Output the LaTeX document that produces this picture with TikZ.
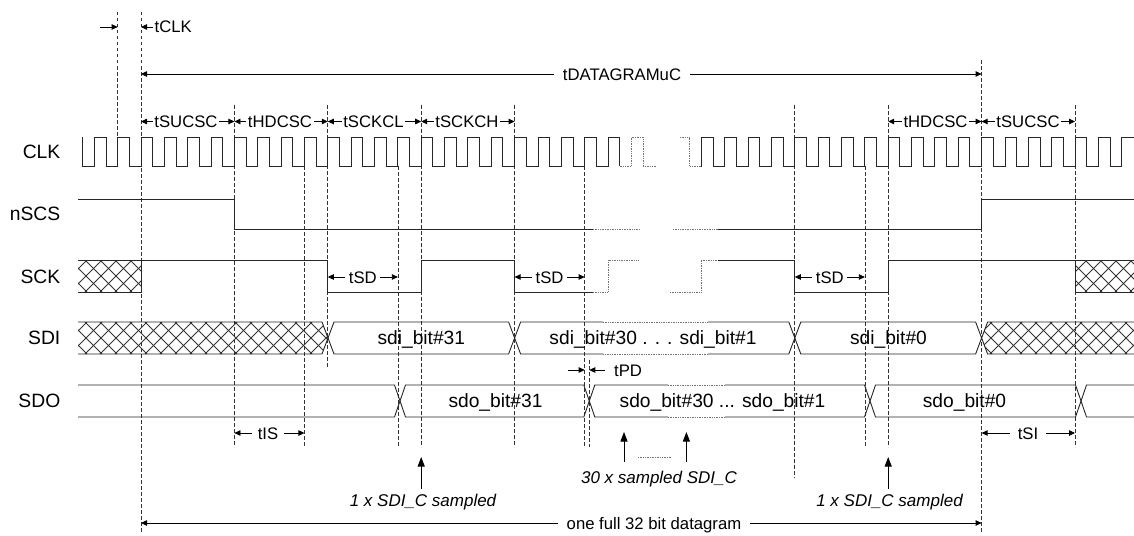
\documentclass[tikz,border=0pt]{standalone}
\usepackage{fontspec}
\setmainfont{Liberation Sans}
\usetikzlibrary{arrows.meta}
\newcommand\busseg[5]{%
  \draw[sig] (#1,{(#3+#4)/2}) -- ({#1+#5},#3) -- ({#2-#5},#3) -- (#2,{(#3+#4)/2}) -- ({#2-#5},#4) -- ({#1+#5},#4) -- cycle;}
\begin{document}
\begin{tikzpicture}[x=1pt,y=-1pt,
  sig/.style={line width=0.9pt,black!85},
  faint/.style={line width=0.9pt,black!55,dash pattern=on 1pt off 0.7pt},
  guide/.style={line width=0.7pt,black!80,dash pattern=on 3.5pt off 2.5pt},
  hatchline/.style={line width=0.8pt,black!80},
  tlab/.style={font=\fontsize{16.7}{20}\selectfont,inner xsep=1.5pt,inner ysep=0pt,text height=12pt,text depth=0pt},
  slab/.style={font=\fontsize{19.3}{23}\selectfont,anchor=east,inner sep=0pt,text height=13.8pt,text depth=0pt},
  dlab/.style={font=\fontsize{19.2}{23}\selectfont,inner sep=0pt,text height=13.8pt,text depth=0pt},
  ilab/.style={font=\fontsize{17}{20}\selectfont\itshape,inner sep=0pt,text height=12.2pt,text depth=0pt},
  darr/.style={line width=0.8pt,black,-{Triangle[length=6pt,width=5.5pt]}},
  uparr/.style={line width=0.9pt,black,-{Triangle[length=9.5pt,width=7pt]}},
]
\useasboundingbox (0,0) rectangle (1134,535);

% ---------- guide lines ----------
\foreach \n/\x/\a/\b in {gm1/117.65/12/150, g0/141/12/532, g4/234.4/105/447, g7/304.45/166/447,
  g8/327.8/105/368, g11/397.85/166/447, g12/421.2/105/447, g16/514.6/105/447, g19/584.65/166/447,
  gpd/589.3/360/447, g28/794.8/105/478, g31/864.85/166/447, g32/888.2/105/447, g36/981.6/60/532,
  g40/1075/105/447}{
  \coordinate (\n) at (\x,\a);
  \draw[guide] (\x,\a) -- (\x,\b);
}

% ---------- signal names ----------
\node[slab] (lclk) at (60.5,152) {CLK};
\node[slab] (lncs) at (60.5,214) {nSCS};
\node[slab] (lsck) at (60.5,277) {SCK};
\node[slab] (lsdi) at (60.5,338) {SDI};
\node[slab] (lsdo) at (60.5,401) {SDO};

% ---------- CLK ----------
\draw[sig] (82.6,137) -- (82.6,166)
  \foreach \k in {-2,...,20}{ -- ({141+\k*23.35},166) -- ({141+\k*23.35},137) -- ({152.675+\k*23.35},137) -- ({152.675+\k*23.35},166) };
\draw[faint] (619.7,166) -- (631.35,166) -- (631.35,137) -- (643.0,137) -- (643.0,166) -- (656.7,166);
\draw[faint] (680,137) -- (689.7,137) -- (689.7,166) -- (701.4,166);
\draw[sig] (701.4,166)
  \foreach \k in {24,...,41}{ -- ({141+\k*23.35},166) -- ({141+\k*23.35},137) -- ({152.675+\k*23.35},137) -- ({152.675+\k*23.35},166) }
  -- (1121.7,166) -- (1121.7,137) -- (1134,137);

% ---------- nSCS ----------
\draw[sig] (78,199) -- (234.4,199) -- (234.4,229) -- (593,229);
\draw[faint] (593,229) -- (639,229);
\draw[faint] (673,229) -- (718,229);
\draw[sig] (718,229) -- (981.6,229) -- (981.6,199) -- (1134,199);

% ---------- SCK ----------
\begin{scope}
  \clip (78,260) rectangle (141,292);
  \foreach \t in {40,55,...,141}{ \draw[hatchline] (\t,260) -- ++(32,32); \draw[hatchline] (\t,292) -- ++(32,-32); }
\end{scope}
\draw[sig] (78,260) -- (141,260);
\draw[sig] (78,292) -- (141,292) -- (141,260) -- (327.8,260) -- (327.8,292) -- (421.2,292) -- (421.2,260)
  -- (514.6,260) -- (514.6,292) -- (593,292);
\draw[faint] (593,292) -- (608,292) -- (608,260) -- (639,260);
\draw[faint] (670,292) -- (701.4,292) -- (701.4,260) -- (718,260);
\draw[sig] (718,260) -- (794.8,260) -- (794.8,292) -- (888.2,292) -- (888.2,260) -- (1134,260);
\begin{scope}
  \clip (1075,260) rectangle (1134,292);
  \foreach \t in {1040,1055,...,1134}{ \draw[hatchline] (\t,260) -- ++(32,32); \draw[hatchline] (\t,292) -- ++(32,-32); }
\end{scope}
\draw[sig] (1075,260) -- (1075,292) -- (1134,292);

% ---------- SDI ----------
\begin{scope}
  \clip (78,322) -- (322,322) -- (328,338) -- (322,354) -- (78,354) -- cycle;
  \foreach \t in {40,55,...,330}{ \draw[hatchline] (\t,322) -- ++(32,32); \draw[hatchline] (\t,354) -- ++(32,-32); }
\end{scope}
\draw[sig] (78,322) -- (322,322) -- (328,338) -- (322,354) -- (78,354);
\busseg{328}{514.6}{322}{354}{6}
\draw[sig] (514.6,338) -- (520.6,322) -- (603,322);
\draw[faint] (603,322) -- (708,322);
\draw[sig] (708,322) -- (788.8,322) -- (794.8,338) -- (788.8,354) -- (708,354);
\draw[faint] (708,354) -- (603,354);
\draw[sig] (603,354) -- (520.6,354) -- (514.6,338);
\busseg{794.8}{981.6}{322}{354}{6}
\begin{scope}
  \clip (981.6,338) -- (987.6,322) -- (1134,322) -- (1134,354) -- (987.6,354) -- cycle;
  \foreach \t in {945,960,...,1134}{ \draw[hatchline] (\t,322) -- ++(32,32); \draw[hatchline] (\t,354) -- ++(32,-32); }
\end{scope}
\draw[sig] (1134,322) -- (987.6,322) -- (981.6,338) -- (987.6,354) -- (1134,354);

\node[dlab] (d31) at (421.3,338) {sdi\_bit\#31};
\node[dlab] (d30) at (653,338) {sdi\_bit\#30 . . . sdi\_bit\#1};
\node[dlab] (d0) at (888.5,338) {sdi\_bit\#0};

% ---------- SDO ----------
\draw[sig] (78,385) -- (394.5,385) -- (400,401) -- (394.5,417) -- (78,417);
\busseg{400}{589.3}{385}{417}{5.5}
\draw[sig] (589.3,401) -- (594.8,385) -- (668,385);
\draw[faint] (668,385) -- (725,385);
\draw[sig] (725,385) -- (864.5,385) -- (870,401) -- (864.5,417) -- (725,417);
\draw[faint] (725,417) -- (668,417);
\draw[sig] (668,417) -- (594.8,417) -- (589.3,401);
\busseg{870}{1081}{385}{417}{5.5}
\draw[sig] (1134,385) -- (1086.5,385) -- (1081,401) -- (1086.5,417) -- (1134,417);

\node[dlab] (o31) at (495.5,401) {sdo\_bit\#31};
\node[dlab] (o30) at (722.5,401) {sdo\_bit\#30 ... sdo\_bit\#1};
\node[dlab] (o0) at (964.5,401) {sdo\_bit\#0};

% ---------- timing labels ----------
\coordinate (tclkl) at (100,27);
\draw[darr] (tclkl) -- (tclkl -| gm1);
\node[tlab,anchor=west] (tclk) at (153,27) {tCLK};
\draw[darr] (tclk.west) -- (tclk.west -| g0);

\node[tlab,inner xsep=9pt] (tdg) at (622,74) {tDATAGRAMuC};
\draw[darr] (tdg.west) -- (tdg.west -| g0);
\draw[darr] (tdg.east) -- (tdg.east -| g36);

\foreach \n/\p/\txt/\l/\r in {
  tsu1/{186,121.5}/tSUCSC/g0/g4,
  thd1/{280,121.5}/tHDCSC/g4/g8,
  tcl/{373.5,121.5}/tSCKCL/g8/g12,
  tch/{467,121.5}/tSCKCH/g12/g16,
  thd2/{935.5,121.5}/tHDCSC/g32/g36,
  tsu2/{1028,121.5}/tSUCSC/g36/g40}{
  \node[tlab] (\n) at (\p) {\txt};
  \draw[darr] (\n.west) -- (\n.west -| \l);
  \draw[darr] (\n.east) -- (\n.east -| \r);
}

\foreach \n/\p/\l/\r in {tsd1/{362.8,277}/g8/g11, tsd2/{549.6,277}/g16/g19, tsd3/{829.8,277}/g28/g31}{
  \node[tlab,inner xsep=3.5pt] (\n) at (\p) {tSD};
  \draw[darr] (\n.west) -- (\n.west -| \l);
  \draw[darr] (\n.east) -- (\n.east -| \r);
}

\node[tlab,inner xsep=6pt] (tis) at (268,433) {tIS};
\draw[darr] (tis.west) -- (tis.west -| g4);
\draw[darr] (tis.east) -- (tis.east -| g7);

\node[tlab,inner xsep=8pt] (tsi) at (1028,433) {tSI};
\draw[darr] (tsi.west) -- (tsi.west -| g36);
\draw[darr] (tsi.east) -- (tsi.east -| g40);

\coordinate (tpdl) at (568,370);
\draw[darr] (tpdl) -- (tpdl -| g19);
\node[tlab,anchor=west,inner xsep=9pt] (tpd) at (605,370) {tPD};
\draw[darr] (tpd.west) -- (tpd.west -| gpd);

% ---------- sampling marks ----------
\coordinate (s1) at (421.2,489);
\draw[uparr] (s1) -- ++(0,-32);
\node[ilab] (s1lab) at (423,500) {1 x SDI\_C sampled};

\coordinate (s30a) at (624,462);
\coordinate (s30b) at (686.4,462);
\draw[uparr] (s30a) -- ++(0,-30);
\draw[uparr] (s30b) -- ++(0,-30);
\draw[faint] (638,457) -- (671,457);
\node[ilab] (s30lab) at (659,477) {30 x sampled SDI\_C};

\coordinate (s0) at (888.2,489);
\draw[uparr] (s0) -- ++(0,-32);
\node[ilab] (s0lab) at (889.5,500) {1 x SDI\_C sampled};

% ---------- datagram ----------
\node[tlab,inner xsep=9pt] (dg) at (654,523) {one full 32 bit datagram};
\draw[darr] (dg.west) -- (dg.west -| g0);
\draw[darr] (dg.east) -- (dg.east -| g36);
\end{tikzpicture}
\end{document}
